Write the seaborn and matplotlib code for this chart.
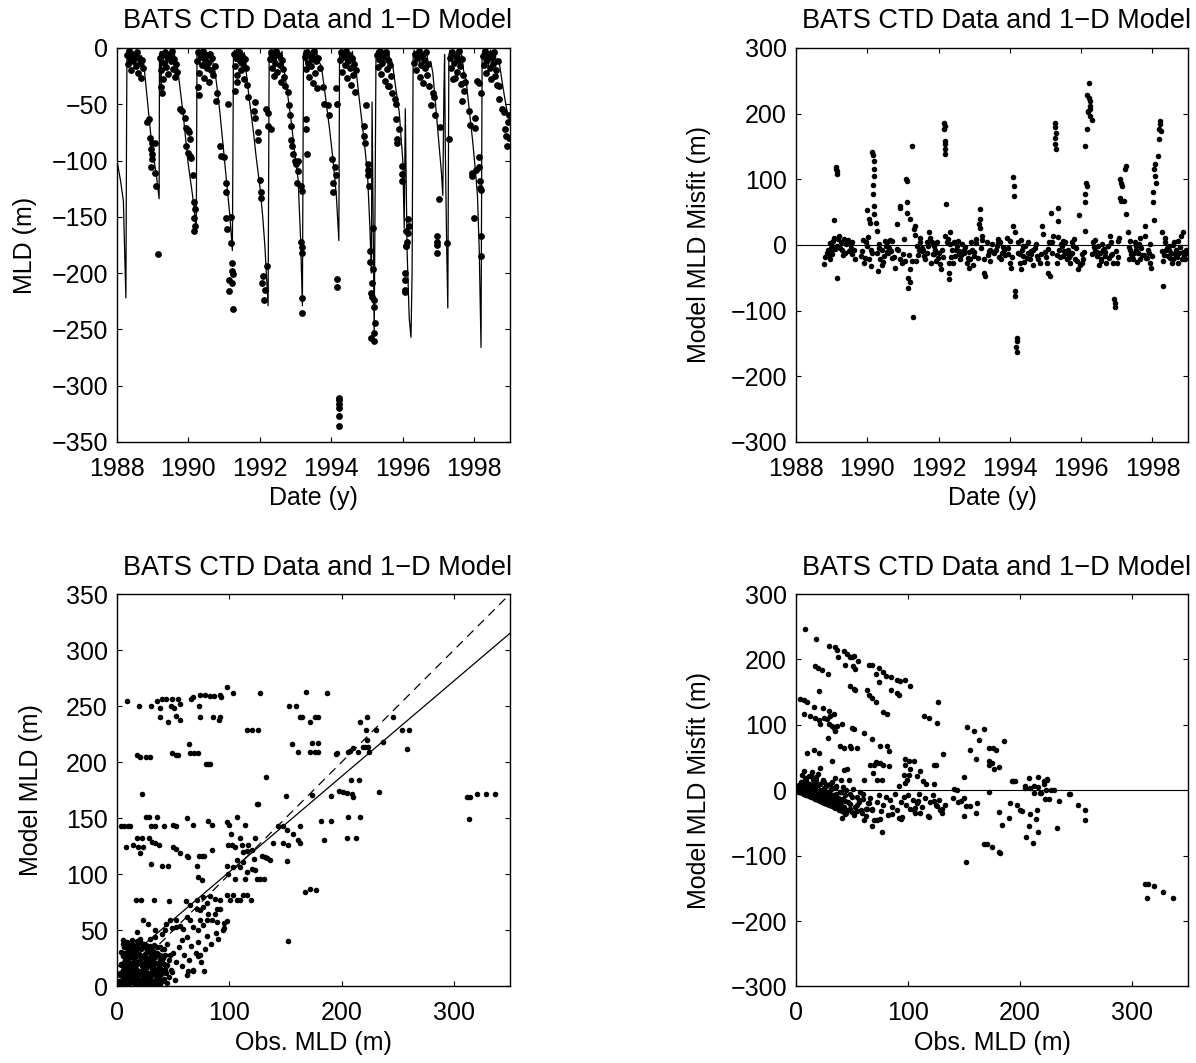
import matplotlib
matplotlib.use('Agg')
import matplotlib.pyplot as plt
import seaborn as sns

# ---------------- panel 1: MLD time series (model line + CTD obs) ----------------
model_year = [
    1988.00, 1988.10, 1988.18, 1988.21, 1988.25, 1988.27, 1988.28, 1988.31, 1988.33, 1988.36,
    1988.39, 1988.42, 1988.45, 1988.48, 1988.51, 1988.54, 1988.57, 1988.60, 1988.63, 1988.66,
    1988.69, 1988.72, 1988.75, 1988.80, 1988.86, 1988.92, 1988.98, 1989.04, 1989.10, 1989.18,
    1989.19, 1989.22, 1989.24, 1989.25, 1989.28, 1989.31, 1989.34, 1989.37, 1989.40, 1989.43,
    1989.46, 1989.49, 1989.52, 1989.55, 1989.58, 1989.61, 1989.64, 1989.68, 1989.72, 1989.78,
    1989.85, 1989.92, 1989.99, 1990.06, 1990.12, 1990.18, 1990.22,
    1990.24, 1990.27, 1990.30, 1990.33, 1990.36, 1990.39, 1990.42, 1990.45, 1990.48, 1990.51,
    1990.54, 1990.57, 1990.60, 1990.63, 1990.66, 1990.70, 1990.74, 1990.80, 1990.88, 1990.95,
    1991.02, 1991.09, 1991.16, 1991.23,
    1991.26, 1991.29, 1991.32, 1991.35, 1991.38, 1991.41, 1991.44, 1991.47, 1991.50, 1991.53,
    1991.56, 1991.59, 1991.62, 1991.70, 1991.81, 1991.90, 1992.00, 1992.08, 1992.14, 1992.23,
    1992.26, 1992.29, 1992.32, 1992.35, 1992.38, 1992.41, 1992.44, 1992.47, 1992.50, 1992.53,
    1992.56, 1992.59, 1992.62, 1992.65, 1992.69, 1992.78, 1992.88, 1992.97, 1993.07, 1993.14,
    1993.19,
    1993.22, 1993.25, 1993.28, 1993.31, 1993.34, 1993.37, 1993.40, 1993.43, 1993.46, 1993.49,
    1993.52, 1993.55, 1993.58, 1993.61, 1993.65, 1993.72, 1993.83, 1993.95, 1994.05, 1994.14,
    1994.21,
    1994.23, 1994.26, 1994.29, 1994.32, 1994.35, 1994.38, 1994.41, 1994.44, 1994.47, 1994.50,
    1994.53, 1994.56, 1994.59, 1994.62, 1994.66, 1994.69, 1994.78, 1994.88, 1994.96, 1995.02,
    1995.08, 1995.12, 1995.14, 1995.17, 1995.20, 1995.25,
    1995.28, 1995.31, 1995.34, 1995.37, 1995.40, 1995.43, 1995.46, 1995.49, 1995.52, 1995.55,
    1995.58, 1995.61, 1995.64, 1995.68, 1995.72, 1995.80, 1995.90, 1996.00, 1996.04, 1996.07,
    1996.12, 1996.18, 1996.23, 1996.26, 1996.29,
    1996.32, 1996.35, 1996.38, 1996.41, 1996.44, 1996.47, 1996.50, 1996.53, 1996.56, 1996.59,
    1996.62, 1996.65, 1996.68, 1996.72, 1996.78, 1996.84, 1996.93, 1997.02, 1997.08, 1997.12,
    1997.15, 1997.17, 1997.19, 1997.23, 1997.26, 1997.29,
    1997.32, 1997.35, 1997.38, 1997.41, 1997.44, 1997.47, 1997.50, 1997.53, 1997.56, 1997.59,
    1997.62, 1997.65, 1997.70, 1997.77, 1997.86, 1997.95, 1998.03, 1998.09, 1998.14, 1998.19,
    1998.22,
    1998.25, 1998.28, 1998.31, 1998.34, 1998.37, 1998.40, 1998.43, 1998.46, 1998.49, 1998.52,
    1998.55, 1998.58, 1998.62, 1998.66, 1998.70, 1998.77, 1998.84, 1998.91, 1998.98,
]
model_mld = [
    -100, -118, -136, -175, -222, -60, -8, -3, -14, -4,
    -9, -2, -12, -5, -18, -6, -3, -10, -4, -15,
    -7, -20, -14, -30, -50, -68, -88, -100, -112, -134,
    -6, -3, -35, -4, -12, -3, -8, -2, -16, -5,
    -10, -3, -7, -2, -12, -5, -20, -14, -24, -40,
    -58, -80, -102, -118, -132, -149, -163,
    -5, -2, -15, -4, -9, -3, -18, -6, -2, -11,
    -4, -7, -3, -14, -6, -17, -20, -35, -57, -80,
    -102, -125, -149, -180,
    -6, -2, -12, -4, -8, -3, -16, -5, -2, -10,
    -4, -14, -22, -45, -72, -98, -123, -150, -176, -229,
    -6, -3, -13, -4, -9, -2, -17, -5, -3, -11,
    -4, -8, -3, -15, -22, -42, -66, -92, -117, -170,
    -229,
    -5, -2, -14, -4, -8, -3, -18, -6, -2, -10,
    -4, -13, -3, -7, -12, -16, -42, -72, -100, -131,
    -171,
    -5, -2, -12, -4, -9, -3, -16, -5, -2, -11,
    -4, -8, -3, -14, -10, -19, -45, -72, -95, -117,
    -160, -200, -48, -150, -255, -6,
    -2, -13, -4, -9, -3, -17, -5, -2, -11, -4,
    -8, -3, -14, -10, -16, -35, -57, -100, -160, -54,
    -180, -240, -257, -200, -6,
    -2, -12, -4, -9, -3, -16, -5, -2, -10, -4,
    -13, -3, -7, -15, -12, -22, -55, -87, -110, -131,
    -40, -6, -90, -180, -231, -6,
    -2, -12, -4, -8, -3, -15, -5, -2, -10, -4,
    -14, -6, -20, -28, -55, -81, -108, -131, -180, -266,
    -6,
    -2, -13, -4, -9, -3, -16, -5, -2, -11, -4,
    -8, -3, -14, -10, -13, -28, -42, -55, -63,
]

obs_year = [
    1988.29, 1988.31, 1988.34, 1988.37, 1988.40, 1988.43, 1988.46, 1988.49, 1988.52, 1988.55, 1988.58, 1988.61, 1988.64, 1988.67, 1988.70, 1988.73,
    1988.83, 1988.89, 1988.92, 1988.97, 1989.06, 1988.94, 1988.99, 1988.97, 1988.95, 1989.06, 1989.08, 1989.14,
    1989.20, 1989.23, 1989.26, 1989.29, 1989.32, 1989.35, 1989.38, 1989.41, 1989.44, 1989.47, 1989.50, 1989.53, 1989.56, 1989.59, 1989.62, 1989.65, 1989.68, 1989.22, 1989.25,
    1989.76, 1989.83, 1989.90, 1989.94, 1989.99, 1990.01, 1990.04, 1989.94, 1989.99, 1990.04, 1990.08, 1990.12, 1990.17, 1990.18, 1990.17, 1990.18, 1990.16,
    1990.25, 1990.28, 1990.31, 1990.34, 1990.37, 1990.40, 1990.43, 1990.46, 1990.49, 1990.52, 1990.55, 1990.58, 1990.61, 1990.64, 1990.67, 1990.70, 1990.73, 1990.78, 1990.27, 1990.30,
    1990.88, 1990.92, 1991.00, 1991.04, 1991.06, 1991.04, 1991.07, 1991.18, 1991.20, 1991.21, 1991.22, 1991.24, 1991.13, 1991.22, 1991.13, 1991.24, 1991.11, 1990.80,
    1991.28, 1991.31, 1991.34, 1991.37, 1991.40, 1991.43, 1991.46, 1991.49, 1991.52, 1991.55, 1991.58, 1991.61, 1991.64, 1991.30, 1991.35,
    1991.67, 1991.85, 1991.84, 1991.85, 1991.95, 1991.95, 1992.01, 1992.04, 1992.03, 1992.09, 1992.07, 1992.14, 1992.12, 1992.20,
    1992.16, 1992.22, 1992.22, 1992.31, 1992.28, 1992.31, 1992.34, 1992.37, 1992.40, 1992.43, 1992.46, 1992.49, 1992.52, 1992.55, 1992.58, 1992.61, 1992.64, 1992.67, 1992.70,
    1992.79, 1992.82, 1992.84, 1992.86, 1992.88, 1992.91, 1992.93, 1992.98, 1993.02, 1993.06, 1993.04, 1993.07, 1993.14, 1993.17, 1993.16, 1993.17, 1993.19, 1993.19, 1993.19,
    1993.25, 1993.28, 1993.31, 1993.34, 1993.37, 1993.40, 1993.43, 1993.46, 1993.49, 1993.52, 1993.55, 1993.58, 1993.61, 1993.64, 1993.67, 1993.30, 1993.30, 1993.32,
    1993.90, 1993.93, 1994.02, 1994.09, 1994.13, 1994.04, 1994.04, 1994.16, 1994.16, 1994.21, 1994.21, 1994.21, 1994.21, 1994.21, 1994.21, 1993.76, 1993.80,
    1994.25, 1994.28, 1994.31, 1994.34, 1994.37, 1994.40, 1994.43, 1994.46, 1994.49, 1994.52, 1994.55, 1994.58, 1994.61, 1994.64, 1994.67, 1994.70, 1994.14, 1994.16,
    1994.97, 1994.92, 1994.92, 1994.94, 1995.02, 1995.03, 1995.04, 1995.05, 1995.16, 1995.09, 1995.09, 1995.16, 1995.14, 1995.12, 1995.14, 1995.20, 1995.20, 1995.23, 1995.20, 1995.12, 1995.20,
    1995.28, 1995.31, 1995.34, 1995.37, 1995.40, 1995.43, 1995.46, 1995.49, 1995.52, 1995.55, 1995.58, 1995.61, 1995.64, 1995.67, 1995.70, 1995.60,
    1995.77, 1995.81, 1995.90, 1995.81, 1995.83, 1995.85, 1995.97, 1995.99, 1995.97, 1996.14, 1996.17, 1996.14, 1996.10, 1996.12, 1996.10, 1996.10, 1996.05, 1996.05, 1996.05, 1996.07,
    1996.32, 1996.35, 1996.38, 1996.41, 1996.44, 1996.47, 1996.50, 1996.53, 1996.56, 1996.59, 1996.62, 1996.65, 1996.68, 1996.71, 1996.74, 1996.78,
    1996.84, 1996.90, 1996.95, 1996.95, 1996.95, 1996.95, 1997.02, 1997.25, 1997.30, 1996.88, 1997.05,
    1997.33, 1997.36, 1997.39, 1997.42, 1997.45, 1997.48, 1997.51, 1997.54, 1997.57, 1997.60, 1997.63, 1997.66, 1997.69, 1997.72, 1997.67, 1997.75, 1997.40,
    1997.86, 1997.87, 1998.01, 1998.03, 1998.09, 1998.13, 1997.95, 1997.93, 1998.04, 1998.13, 1998.16, 1998.16, 1998.19, 1998.14, 1998.00, 1998.19, 1998.19, 1998.18,
    1998.25, 1998.28, 1998.31, 1998.34, 1998.37, 1998.40, 1998.43, 1998.46, 1998.49, 1998.52, 1998.55, 1998.58, 1998.61, 1998.64, 1998.67, 1998.70, 1998.70,
    1998.79, 1998.84, 1998.86, 1998.90, 1998.93, 1998.96, 1998.95, 1998.98,
]
obs_mld = [
    -6, -14, -3, -10, -20, -5, -12, -8, -16, -4, -22, -9, -13, -27, -11, -18,
    -66, -63, -80, -84, -84, -90, -94, -99, -106, -111, -123, -183,
    -9, -20, -5, -28, -13, -4, -17, -8, -23, -6, -12, -3, -19, -10, -26, -14, -21, -35, -40,
    -54, -56, -62, -71, -73, -75, -81, -87, -93, -96, -98, -113, -137, -143, -151, -158, -163,
    -12, -4, -22, -8, -15, -3, -27, -10, -6, -18, -13, -30, -5, -20, -9, -24, -16, -47, -35, -42,
    -87, -96, -97, -120, -128, -151, -161, -150, -173, -191, -198, -201, -206, -209, -216, -232, -50, -40,
    -5, -16, -9, -24, -3, -12, -20, -7, -14, -28, -10, -18, -33, -38, -30,
    -44, -48, -56, -62, -75, -82, -117, -128, -133, -203, -209, -215, -224, -194,
    -54, -58, -69, -72, -10, -4, -18, -8, -25, -13, -3, -21, -6, -15, -30, -11, -19, -26, -34,
    -39, -51, -60, -69, -82, -87, -94, -100, -103, -109, -120, -100, -123, -127, -172, -177, -182, -222, -235,
    -8, -19, -4, -13, -26, -6, -16, -10, -31, -3, -22, -12, -36, -9, -18, -63, -72, -94,
    -51, -60, -99, -106, -113, -120, -128, -205, -212, -311, -313, -316, -320, -327, -336, -35, -50,
    -11, -4, -21, -8, -15, -3, -27, -12, -6, -18, -33, -9, -24, -14, -39, -20, -36, -50,
    -51, -69, -78, -84, -103, -108, -113, -123, -160, -180, -190, -196, -209, -218, -221, -224, -230, -244, -253, -258, -260,
    -6, -17, -10, -3, -23, -13, -8, -29, -4, -19, -11, -34, -15, -25, -40, -34,
    -45, -50, -72, -63, -81, -84, -105, -112, -118, -152, -158, -164, -176, -172, -176, -163, -200, -206, -215, -217,
    -13, -5, -20, -9, -3, -26, -15, -7, -31, -11, -18, -4, -24, -14, -34, -51,
    -40, -60, -167, -172, -175, -182, -134, -173, -81, -44, -70,
    -9, -18, -4, -13, -27, -7, -21, -11, -3, -16, -32, -10, -24, -38, -47, -30, -28,
    -56, -68, -71, -62, -29, -31, -111, -114, -108, -106, -118, -124, -126, -97, -151, -167, -185, -40,
    -7, -15, -3, -22, -11, -5, -18, -28, -9, -14, -4, -25, -20, -33, -12, -34, -45,
    -54, -57, -72, -78, -87, -60, -66, -80,
]

# ---------------- panel 2: model misfit vs date ----------------
misfit_year = [
    1988.79, 1988.91, 1988.93, 1988.95, 1989.07, 1989.12, 1989.12, 1989.14, 1989.14, 1989.14,
    1989.07, 1989.21, 1989.26, 1989.35, 1989.44, 1989.54, 1989.49, 1989.30, 1989.16, 1988.98,
    1989.02, 1989.00, 1989.40, 1989.58, 1989.63, 1989.82, 1989.91, 1989.96, 1990.00, 1990.05,
    1990.08, 1990.09, 1990.12, 1990.17, 1990.19, 1990.19, 1990.19, 1990.17, 1990.17, 1990.19,
    1990.19, 1990.23, 1990.28, 1990.30, 1990.36, 1990.42, 1990.47, 1990.51, 1990.56, 1990.61,
    1990.70, 1990.65, 1990.05, 1990.11, 1990.00, 1990.79, 1990.84, 1990.91, 1990.93, 1990.93,
    1990.98, 1991.03, 1991.07, 1991.09, 1991.12, 1991.10, 1991.12, 1991.14, 1991.14, 1991.19,
    1991.21, 1991.21, 1991.24, 1991.26, 1991.28, 1991.31, 1991.35, 1991.40, 1991.45, 1991.49,
    1991.54, 1991.58, 1991.63, 1991.68, 1991.72, 1991.77, 1991.82, 1991.86, 1991.91, 1991.96,
    1992.00, 1992.05, 1992.07, 1992.14, 1992.17, 1992.14, 1992.19, 1992.17, 1992.19, 1992.19,
    1992.21, 1992.19, 1992.24, 1992.28, 1992.28, 1992.30, 1992.33, 1992.38, 1992.42, 1992.47,
    1992.52, 1992.56, 1992.61, 1992.66, 1992.70, 1992.80, 1992.84, 1992.89, 1992.93, 1992.98,
    1993.06, 1993.12, 1993.15, 1993.15, 1993.17, 1993.21, 1993.26, 1993.28, 1993.31, 1993.35,
    1993.40, 1993.45, 1993.54, 1993.63, 1993.68, 1993.73, 1993.77, 1993.84, 1993.91, 1993.96,
    1994.01, 1994.02, 1994.10, 1994.12, 1994.12, 1994.10, 1994.13, 1994.15, 1994.15, 1994.19,
    1994.19, 1994.17, 1994.19, 1994.24, 1994.28, 1994.30, 1994.33, 1994.38, 1994.42, 1994.52,
    1994.56, 1994.66, 1994.75, 1994.84, 1994.89, 1994.94, 1995.03, 1995.08, 1995.12, 1995.14,
    1995.17, 1995.22, 1995.26, 1995.26, 1995.28, 1995.26, 1995.26, 1995.29, 1995.31, 1995.36,
    1995.36, 1995.38, 1995.45, 1995.50, 1995.54, 1995.59, 1995.63, 1995.68, 1995.73, 1995.77,
    1995.82, 1995.91, 1995.94, 1996.01, 1996.05, 1996.10, 1996.10, 1996.12, 1996.13, 1996.15,
    1996.12, 1996.15, 1996.17, 1996.18, 1996.19, 1996.22, 1996.24, 1996.24, 1996.26, 1996.26,
    1996.29, 1996.22, 1996.33, 1996.38, 1996.43, 1996.47, 1996.52, 1996.57, 1996.61, 1996.66,
    1996.71, 1996.80, 1996.85, 1996.89, 1996.92, 1996.94, 1996.94, 1997.01, 1997.06, 1997.08,
    1997.12, 1997.15, 1997.10, 1997.12, 1997.20, 1997.22, 1997.25, 1997.25, 1997.31, 1997.36,
    1997.40, 1997.45, 1997.50, 1997.54, 1997.59, 1997.64, 1997.68, 1997.78, 1997.80, 1997.87,
    1997.92, 1997.96, 1997.99, 1998.01, 1998.01, 1998.03, 1998.04, 1998.06, 1998.08, 1998.10,
    1998.15, 1998.18, 1998.18, 1998.20, 1998.21, 1998.24, 1998.26, 1998.29, 1998.34, 1998.38,
    1998.43, 1998.47, 1998.52, 1998.57, 1998.61, 1998.66, 1998.71, 1998.75, 1998.80, 1998.85,
    1998.89, 1998.94,
]
misfit_m = [
    -29, -7, -17, -22, 38, 118, 115, 113, 108, -51,
    11, 14, 4, 9, 4, -4, -9, -7, -2, -9,
    -2, -14, 1, 4, -7, -17, -27, 4, 54, 39,
    34, -32, 141, 137, 128, 115, 105, 92, 77, 60,
    47, 34, 21, -40, -22, -7, -17, -2, 4, -4,
    6, -9, -22, -7, -2, -35, 32, 59, 57, -22,
    -27, 9, -24, 100, 98, 66, 49, -50, -65, 39,
    -37, -57, -24, 151, -110, 25, 29, -2, -7, 4,
    -9, -17, -22, -12, 19, 11, 4, -2, -7, 4,
    -12, -29, -37, 186, 181, 176, 158, 153, 146, 138,
    62, 14, 4, -27, -42, -52, 19, -7, 4, -17,
    -2, -9, -22, 1, -12, -27, -35, -22, -7, -17,
    9, 32, 39, 55, 26, 14, -22, -42, -47, 4,
    -9, -7, -12, -2, 9, 4, -12, -7, 11, -4,
    -27, -35, 103, 90, 75, 29, 19, -70, -78, -141,
    -146, -156, -163, 4, -27, -37, -7, -17, -2, -12,
    -22, -7, -17, -27, 29, 16, -27, -42, -47, 49,
    4, 14, 186, 179, 171, 163, 153, 146, -27, 57,
    37, -7, -2, -17, 4, -22, -7, -27, 4, -2,
    -22, -37, 45, -27, -22, 21, 65, 77, 95, 90,
    150, 176, 229, 202, 204, 246, 219, 212, 207, 196,
    191, 224, 4, -9, -17, -2, -12, -22, -7, -17,
    -27, 14, 4, -27, -82, -89, -95, -27, 10, 100,
    95, 90, 72, 67, 67, 115, 120, 47, 19, -7,
    -14, -22, 4, -2, -12, -22, -4, 14, 29, -7,
    -27, -35, -17, 80, 65, 115, 38, 123, 105, 95,
    136, 161, 176, 189, 184, 174, 20, -62, 4, -7,
    -17, -2, -12, -22, 4, -7, -27, -12, 14, 19,
    -17, -7,
]
# extra points in the dense band around zero misfit
band_year = [
    1988.86, 1988.97, 1989.04, 1989.18, 1989.24, 1989.38, 1989.46, 1989.56,
    1989.86, 1989.94, 1990.03, 1990.26, 1990.34, 1990.45, 1990.54, 1990.63,
    1990.76, 1990.87, 1991.01, 1991.33, 1991.42, 1991.52, 1991.66, 1991.80,
    1991.88, 1991.98, 1992.10, 1992.26, 1992.36, 1992.49, 1992.58, 1992.75,
    1992.86, 1992.96, 1993.04, 1993.19, 1993.38, 1993.49, 1993.60, 1993.70,
    1993.80, 1993.94, 1994.07, 1994.27, 1994.36, 1994.47, 1994.60, 1994.70,
    1994.80, 1994.98, 1995.10, 1995.19, 1995.33, 1995.42, 1995.52, 1995.66,
    1995.75, 1995.86, 1995.98, 1996.03, 1996.36, 1996.45, 1996.55, 1996.64,
    1996.75, 1996.83, 1996.98, 1997.04, 1997.34, 1997.43, 1997.53, 1997.62,
    1997.72, 1997.84, 1997.90, 1998.27, 1998.32, 1998.41, 1998.50, 1998.59,
    1998.68, 1998.78, 1998.87, 1998.92,
]
band_m = [
    -12, -4, 6, 9, -5, -12, 7, -14,
    -9, -20, 12, -12, 2, -26, -10, 8,
    -18, -8, -14, 15, -15, -4, 5, -28,
    -14, -20, -8, 9, -19, -7, -14, -3,
    -10, -30, 3, -5, -16, 2, -8, -18,
    -3, -13, -19, -14, -2, -20, -9, -4,
    -22, -10, 5, -12, -15, 1, -9, -19,
    -12, -4, -30, -14, -3, -11, -25, -6,
    -2, -15, -9, -19, -3, -18, -8, 2,
    -16, -20, -12, -9, -15, -4, -20, 0,
    -18, -3, -11, -22,
]
band2_year = [
    1988.82, 1988.94, 1989.09, 1989.32, 1989.51, 1989.66, 1989.88, 1990.14,
    1990.32, 1990.40, 1990.50, 1990.58, 1990.68, 1990.82, 1991.16, 1991.36,
    1991.47, 1991.56, 1991.70, 1991.84, 1991.93, 1992.12, 1992.31, 1992.40,
    1992.54, 1992.63, 1992.72, 1992.82, 1992.91, 1993.00, 1993.10, 1993.23,
    1993.43, 1993.52, 1993.66, 1993.74, 1993.86, 1993.99, 1994.22, 1994.31,
    1994.40, 1994.50, 1994.58, 1994.64, 1994.73, 1994.86, 1995.00, 1995.06,
    1995.34, 1995.40, 1995.48, 1995.57, 1995.70, 1995.80, 1995.88, 1996.07,
    1996.31, 1996.40, 1996.50, 1996.59, 1996.68, 1996.78, 1996.87, 1997.03,
    1997.33, 1997.38, 1997.48, 1997.57, 1997.66, 1997.75, 1997.82, 1997.94,
    1998.30, 1998.36, 1998.45, 1998.54, 1998.63, 1998.73, 1998.82, 1998.96,
]
band2_m = [
    -18, 3, -6, -15, 2, -22, 8, -12,
    -4, -30, 6, -12, -20, -6, -15, -24,
    10, -8, -2, -14, -24, -18, 2, -28,
    6, -16, -8, -20, 4, -10, -20, 8,
    -24, -10, 4, -22, -16, 6, -12, 8,
    -26, 4, -14, -30, 2, -14, -18, -6,
    12, -18, 6, -12, -16, 9, -24, -10,
    -14, 8, -30, 2, -10, -20, -14, 6,
    -22, 6, -12, -26, 10, -16, -20, 2,
    -24, 10, -8, -28, -14, 6, -22, -12,
]

# ---------------- panel 3: observed vs model MLD ----------------
top_obs = [9.2, 19.6, 30, 35.9, 39.9, 44, 48.7, 54, 56, 38,
           48, 51, 38, 45.8, 52.5, 56, 65.6, 68, 74, 78,
           82.8, 86, 91.7, 93, 97.6, 103.6, 73, 73.9, 85.8, 91,
           92, 115.5, 120, 126, 127, 153.5, 159.4, 162.9, 164.5, 168.3,
           171.9, 176, 179, 186.7, 155.5, 161.5, 171.9, 176, 179, 173.3,
           179, 196, 195.5, 206, 207.5, 210.5, 214.9, 216.4, 222.3, 221.8,
           224.7, 222.3, 219, 220.5, 223.5, 230.6, 236.6, 245.5, 253.5, 260,
           258.5]
top_model = [255, 250, 250, 255, 256, 256.5, 256, 256, 252, 248,
             250, 248, 240, 236, 241, 238, 256, 258.5, 260, 260,
             259, 259, 260, 258, 267, 262, 250, 240, 240, 238,
             240, 229, 229, 229, 262, 250, 250, 240, 240, 263,
             236, 240, 240, 261.5, 216, 209, 209, 209, 209, 217,
             217, 208.5, 207, 209, 210, 213, 209, 236, 240, 229,
             209, 220, 214, 214, 214, 229, 218, 240, 229, 229,
             212]
mid_obs = [17.5, 20.8, 25.8, 29.4, 48.7, 52.5, 54.5, 64.4, 65, 68.6,
           72.4, 79.3, 81.3, 82.8, 132.4, 22, 124.4, 125.8, 150.5, 173.3,
           191, 198, 201.5, 204.5, 209, 210.5, 208, 215.8, 233.6, 311.4,
           314.3, 320.3, 328.6, 336.6, 313.4]
mid_model = [206, 205, 205, 205, 208, 206, 206, 216, 208, 208,
             208, 198, 198, 198, 186.5, 172, 162.6, 163, 169.8, 170.7,
             169.8, 174, 173.7, 172.8, 172, 169, 184, 184, 173.7, 168.6,
             168.6, 172, 172, 172, 149]
b140_obs = [4, 6.5, 10, 11.5, 8, 14, 17.5, 21.9, 18.4, 23.4,
            20.5, 25.8, 28.8, 35.3, 30, 33.9, 42, 50, 52.5, 28.8,
            31, 33.9, 37.7, 30.3, 39.8, 45.7, 50, 52.5, 56, 62.6,
            62.6, 63.5, 68, 73.3, 75.4, 77.5, 81.3, 84.3, 84.3, 71,
            72.4, 75.4, 97.6, 100, 106.6, 114, 99.1, 102, 101.2, 109.5,
            111, 105, 117, 112.5, 115.5, 119.9, 122.9, 128.8, 131.8, 136,
            139.2, 147.5, 152.6, 157, 161.5, 163, 151, 143.7, 147.5, 151,
            163, 181.4, 190.3, 184.3, 206, 216.4, 205, 212.5]
b140_model = [143, 143, 143, 143, 124.5, 126.6, 132, 132, 124.5, 124.5,
              119, 150.7, 150.7, 150.7, 143, 143, 143, 144, 143, 132,
              129, 128, 126.6, 109.6, 107.5, 107.5, 124.5, 123, 119, 150.4,
              116, 115.5, 144, 116, 116, 116, 148, 144, 122, 107,
              97.7, 95, 147, 144, 150.7, 144, 126, 126, 136, 132,
              126, 124.5, 126, 120, 121, 122, 132, 116, 115.6, 113,
              127.5, 127.5, 126, 136, 130.5, 127.5, 111.7, 143, 143, 139.4,
              143, 147.7, 147.7, 131, 150.7, 150.7, 132, 132]
b100_obs = [97.6, 99.1, 103.6, 105, 109.5, 114, 115.5, 119.9, 122.9, 124.4,
            127.3, 130.9, 133.9, 122, 106.6, 112.5, 167.4, 172, 177.2]
b100_model = [107, 100.7, 106.6, 96, 106.6, 96, 102, 105, 103.6, 96,
              96, 96, 115, 114, 112.6, 111, 84, 87, 85.8]
b60_obs = [16.9, 21.4, 32.9, 46.3, 61.4, 71, 77, 82.8, 87.3, 91.7,
           97.6, 100.6, 103.6, 106.6, 109.5, 112.5, 115.5, 119, 65, 71,
           74, 77, 80, 88.7, 91.7, 87.3, 95, 94.7, 85, 88.7,
           74, 80, 81.3, 77, 65, 62, 68, 72.4, 59, 56,
           53, 48.7, 53, 47.2, 44, 42.7, 23.4, 27.9, 33.8, 39.8,
           152.6, 74, 72.5, 62, 57.6, 63.5, 68, 77.5, 46.6, 44.2,
           48.7, 5.6, 8.6, 13, 17.5, 20.5, 23.4, 29.4, 33.8, 17.5]
b60_model = [77.5, 77.5, 77.5, 76, 76, 76.9, 80, 81, 78, 77.5,
             82, 77.5, 82, 77.5, 77.5, 82, 82, 77, 73, 69,
             68.5, 71, 74, 69, 69, 65, 56.6, 50.6, 59.6, 57.5,
             59, 59, 65, 55, 59, 62, 53, 50, 51.5, 53.6,
             53, 52.4, 59, 59, 56, 50, 59, 56, 50, 47,
             40.5, 27.7, 27, 44, 41, 13.7, 13.7, 13.7, 8.3, 3,
             12.8, 41, 39.6, 41, 40.5, 42.6, 38, 42.6, 44, 48.6]
clus_obs = [4, 5, 5, 6, 6, 7, 7, 8, 8, 9,
            9, 10, 10, 11, 11, 12, 12, 13, 13, 14,
            14, 15, 15, 16, 16, 17, 17, 18, 18, 19,
            19, 20, 20, 21, 21, 22, 22, 23, 23, 24,
            24, 25, 25, 26, 26, 27, 28, 28, 29, 30,
            30, 31, 32, 33, 33, 34, 35, 36, 37, 38,
            39, 40, 41, 42, 43, 44, 45, 46, 48, 50,
            52, 53, 55, 58, 60, 62, 64, 66, 68, 70,
            72, 75, 78, 80, 84, 88, 90, 95, 98]
clus_model = [2, 8, 15, 4, 22, 11, 30, 6, 18, 1,
              25, 13, 35, 8, 20, 3, 28, 15, 38, 9,
              22, 4, 32, 17, 26, 11, 2, 20, 36, 7,
              29, 14, 23, 4, 33, 18, 10, 27, 1, 15,
              38, 8, 22, 30, 3, 17, 12, 34, 25, 6,
              19, 28, 11, 37, 2, 21, 14, 30, 8, 24,
              16, 33, 5, 20, 28, 12, 38, 24, 15, 30,
              6, 22, 35, 18, 28, 10, 24, 36, 15, 30,
              40, 22, 33, 45, 38, 48, 42, 52, 58]
clus2_obs = [3, 4, 5, 6, 7, 8, 9, 10, 11, 12,
             13, 14, 15, 16, 17, 18, 19, 20, 21, 22,
             23, 24, 25, 26, 27, 28, 29, 30, 31, 32,
             33, 34, 35, 36, 37, 38, 39, 40, 42, 44,
             3, 5, 7, 9, 11, 13, 15, 17, 19, 21,
             23, 25, 27, 29, 31, 33, 35, 37, 39, 41]
clus2_model = [10, 19, 27, 0, 13, 24, 5, 31, 16, 26,
               6, 30, 12, 2, 21, 33, 11, 1, 26, 7,
               20, 4, 29, 13, 25, 7, 18, 31, 14, 24,
               5, 16, 27, 9, 20, 2, 13, 26, 7, 18,
               5, 1, 16, 12, 6, 21, 10, 27, 3, 12,
               9, 16, 5, 2, 22, 13, 7, 19, 11, 25]
clus3_obs = [2, 3, 4, 5, 6, 7, 8, 9, 10, 11,
             12, 13, 14, 15, 16, 17, 18, 19, 20, 21,
             22, 23, 24, 25, 26, 27, 28, 29, 30, 31,
             32, 33, 34, 35, 36, 37, 38, 39, 40, 43,
             4, 6, 8, 10, 12, 14, 16, 18, 20, 22,
             24, 26, 28, 30, 32, 34, 36, 38, 41, 45,
             5, 9, 13, 17, 21, 25, 29, 33, 37, 42,
             7, 11, 15, 19, 23, 27, 31, 35, 40, 47]
clus3_model = [5, 12, 20, 28, 35, 17, 24, 31, 3, 36,
               19, 5, 26, 10, 32, 16, 6, 22, 29, 12,
               34, 15, 6, 26, 12, 33, 21, 9, 27, 16,
               3, 31, 11, 21, 35, 14, 28, 6, 22, 15,
               31, 9, 35, 23, 11, 18, 36, 12, 5, 27,
               20, 37, 8, 33, 17, 26, 3, 35, 27, 19,
               38, 38, 33, 6, 39, 17, 36, 29, 18, 33,
               25, 29, 23, 39, 11, 3, 10, 4, 12, 28]
fit_obs = [0, 350]
fit_model = [17, 315]
one_obs = [0, 350]
one_model = [0, 350]

# ---------------- panel 4: misfit vs observed MLD ----------------
r_hi_obs = [8.3, 18, 29, 35, 36.6, 37, 42.5, 45.5, 48, 50,
            52, 55, 44, 51, 53, 64.8, 67.5, 71.7, 74, 77.6,
            80.6, 84.7, 90, 92.5, 97.5, 102, 17.2, 19.4, 23, 28.2,
            48.5, 51.4, 53, 63.3, 65, 67.8, 71.7, 74, 85, 90,
            91.5, 78, 81, 114.5, 118.3, 125.8, 126.3, 20.2, 3.9, 6.8,
            9.8, 15.8, 24, 29, 30, 34, 29, 32, 36.6, 12.8,
            17, 20.2, 21, 6.8, 25, 27.7, 34, 35, 41, 50,
            51.4, 61, 67.8, 28.8, 39.5, 43, 48, 49, 54, 74.6,
            81, 82.7, 9.8, 15.8, 20.2, 32, 45.5, 60.4, 97.5, 100.5,
            105, 97.5, 102, 100.5, 108, 111, 113.6, 116, 123, 123,
            125, 131, 66.3, 72, 69, 77.6, 82.7, 72, 76.7, 91.6,
            97, 99, 96]
r_hi_m = [247, 231, 221, 219, 215, 203, 213, 208, 204, 203,
          205, 197, 192, 190, 185, 191, 191, 177, 187, 180,
          175, 173, 168, 167, 169, 159, 190, 187, 184, 177,
          159, 155, 153, 153, 145, 141, 135, 165, 154, 148,
          146, 119, 117, 113, 111, 103, 135, 151.5, 140, 138,
          135, 127.6, 126, 121, 113, 116, 100.5, 98, 98, 113,
          110, 107, 101, 117, 110.7, 109, 95.4, 90, 102, 95.4,
          93, 88, 77.6, 80, 68, 65, 67, 65, 65, 67,
          68, 60, 57, 61, 57, 44, 32, 16, 48, 44,
          44, 39, 32, 24, 21, 29, 14, 10, 10, 39,
          38, 56, 39, 41, 26.5, 39, 37, 16, 16, 6,
          11, 16, 24]
r_right_obs = [149.6, 152.5, 158.5, 163, 161, 155, 168, 171.9, 175.7, 178.7,
               172.5, 174.6, 172.5, 177, 181, 185.3, 194, 195.6, 207.6, 204.6,
               209, 215.6, 224, 221, 230, 244.7, 212, 218]
r_right_m = [20, 97, 91, 76.5, 48.5, 61, 94, 65, 64, 61,
             45, 41, 38, 33, 36, 76, 14, 14, 19, 3.6,
             4, 20, 16, 10, 0, -5, -4, -4]
r_lo_obs = [43.4, 41, 60.4, 67.8, 76.7, 72, 75, 67.8, 63.3, 54.4,
            85.6, 94.6, 93.7, 111, 118.3, 105, 106, 109, 123, 125.8,
            128.8, 130, 133, 140, 145, 147, 149.6, 152, 155, 161.5,
            160.8, 150, 151.6, 167.4, 170.4, 175, 181, 181.8, 181, 183.8,
            189.7, 190.6, 197, 200, 201.5, 205, 211.4, 207.6, 209, 215,
            215.6, 214, 222, 219, 226, 233, 235, 244, 252, 258,
            258, 212, 204.6, 215.6, 223, 228, 221, 224, 192.6, 171.9,
            143.6, 140.6]
r_lo_m = [-37, -42, -46, -55, -64, -46, -44, -30, -28.6, -32,
          -37, -41, -44, -35, -41, -29.6, -27, -17, -17, -24.5,
          -29.6, -35, -23, -12, -18, -16, -12, -24.5, -24.5, -19,
          -35, -39, -110, -82, -82, -87, -94, -96, -33, -52.5,
          -42, -20, -23, -29.6, -32, -71, -80, -55, -37, -29.6,
          -64, -44, -13, -4, -14, -58, -17, -5, -23, -29.6,
          -45, 6, 6, 5, 1, 1, 14, 17, 14, -2.6,
          1, 2]
r_far_obs = [311.6, 314.6, 319.7, 328, 336.3, 313]
r_far_m = [-143, -144, -147, -156, -164, -165]
r_pos_obs = [7.4, 21.7, 5, 9, 13, 18, 25, 14, 43, 35, 47, 70, 71, 75]
r_pos_m = [29, 34, 24, 19, 22, 15, 12, 28, 30.6, 19, 16, 38, 43, 41]
res_clus_obs = [2, 3, 4, 5, 6, 7, 8, 9, 10, 11,
                12, 13, 14, 15, 16, 17, 18, 19, 20, 21,
                22, 23, 24, 25, 26, 27, 28, 29, 30, 31,
                32, 33, 34, 35, 36, 37, 38, 39, 40, 41,
                42, 43, 44, 45, 46, 48, 50, 52, 54, 56,
                58, 60, 62, 64, 66, 68, 70, 72, 74, 76,
                78, 80, 82, 84, 86, 88, 90, 92, 94, 96,
                98, 100, 102, 104, 106, 108, 110, 112, 115, 118,
                120, 122, 125, 128, 130]
res_clus_m = [0, -2, 5, -3, 2, -5, 10, -6, -1, -8,
              3, -10, -4, 15, -12, 0, -14, -6, 8, -16,
              -2, -18, -9, 4, -20, -12, -3, -22, -15, 2,
              -24, -8, -18, -27, -5, -12, -30, -20, -2, -32,
              -14, -25, -8, -35, -18, -28, -10, -38, -22, -15,
              -30, -5, -40, -20, -12, -28, -45, -18, -8, -32,
              -22, -10, -38, -15, -25, -5, -30, -42, -18, -10,
              -22, -8, -28, -15, -35, -20, -5, -25, -12, -40,
              -18, -8, -22, -15, -28]
res2_obs = [1, 2, 3, 4, 5, 6, 7, 8, 9, 10,
            11, 12, 13, 14, 15, 16, 17, 18, 19, 20,
            21, 22, 23, 24, 25, 26, 27, 28, 29, 30,
            2, 4, 6, 8, 10, 12, 14, 16, 18, 20,
            22, 24, 26, 28, 30, 32, 34, 36, 38, 40]
res2_m = [1, -1, -2, 1, -4, 3, -5, -2, -7, 4,
          -3, -9, -1, -11, 6, -6, -13, -2, -9, -15,
          0, -12, -17, -5, -19, -8, -14, -21, -3, -11,
          6, 12, -3, 18, -6, 22, -9, 10, -12, 25,
          -16, 14, -19, 8, -23, 12, -25, 5, -28, 16]
res3_obs = [1, 2, 3, 4, 5, 6, 7, 8, 9, 10,
            11, 12, 13, 14, 15, 16, 17, 18, 19, 20,
            21, 22, 23, 24, 25, 26, 27, 28, 29, 30,
            31, 32, 33, 34, 35, 36, 37, 38, 39, 40,
            42, 44, 46, 48, 50, 53, 56, 59, 62, 65,
            3, 6, 9, 12, 15, 18, 21, 24, 27, 30,
            33, 36, 39, 42, 45, 48, 51, 54, 57, 60]
res3_m = [-1, 2, 0, -3, 3, -2, 1, -6, 5, -4,
          -7, 1, -6, -9, -3, -11, 4, -8, -13, -5,
          -10, -15, -7, -12, -16, -4, -18, -10, -20, -6,
          -14, -21, -11, -17, -24, -9, -19, -26, -13, -22,
          -28, -16, -30, -21, -33, -25, -18, -35, -28, -20,
          8, 12, 14, 10, 18, 20, 9, 16, 6, 10,
          3, 7, -2, 5, 0, -6, 2, -10, -3, -14]

TITLE = 'BATS CTD Data and 1\u2212D Model'

sns.set_theme(style='white')
plt.rcParams['font.family'] = ['Liberation Sans', 'DejaVu Sans']
plt.rcParams.update({
    'font.size': 18, 'axes.titlesize': 19.5, 'axes.labelsize': 18,
    'xtick.labelsize': 18, 'ytick.labelsize': 18,
    'text.color': 'black', 'axes.labelcolor': 'black',
    'xtick.color': 'black', 'ytick.color': 'black',
    'axes.edgecolor': 'black', 'axes.linewidth': 1.0,
    'xtick.direction': 'in', 'ytick.direction': 'in',
    'xtick.top': True, 'ytick.right': True,
    'xtick.bottom': True, 'ytick.left': True,
    'xtick.major.size': 3.5, 'ytick.major.size': 3.5,
    'xtick.major.width': 0.8, 'ytick.major.width': 0.8,
    'xtick.major.pad': 10.5, 'ytick.major.pad': 6.5,
})

fig = plt.figure(figsize=(11.96, 10.63), dpi=100)
ax1 = fig.add_axes([0.0978, 0.5842, 0.3286, 0.3707])
ax2 = fig.add_axes([0.6656, 0.5842, 0.3278, 0.3707])
ax3 = fig.add_axes([0.0978, 0.0720, 0.3286, 0.3692])
ax4 = fig.add_axes([0.6656, 0.0720, 0.3278, 0.3692])


def dots(ax, x, y, s=16):
    sns.scatterplot(x=x, y=y, ax=ax, s=s, color='black', linewidth=0, zorder=3)


def finish(ax, xlabel, ylabel, ylab_x):
    ax.set_title(TITLE, pad=14, x=0.511)
    ax.set_xlabel(xlabel, labelpad=4)
    ax.set_ylabel(ylabel)
    ax.yaxis.set_label_coords(ylab_x, 0.5)
    for sp in ax.spines.values():
        sp.set_visible(True)
        sp.set_color('black')


# 1. MLD time series
sns.lineplot(x=model_year, y=model_mld, ax=ax1, sort=False, estimator=None,
             color='black', linewidth=0.9)
dots(ax1, obs_year, obs_mld, s=24)
ax1.set_xlim(1988, 1999)
ax1.set_ylim(-350, 0)
ax1.set_xticks(range(1988, 1999, 2))
ax1.set_yticks(range(-350, 1, 50))
finish(ax1, 'Date (y)', 'MLD (m)', -0.204)

# 2. misfit vs date
ax2.axhline(0, color='black', linewidth=0.8, zorder=1)
dots(ax2, misfit_year, misfit_m)
dots(ax2, band_year, band_m)
dots(ax2, band2_year, band2_m)
ax2.set_xlim(1988, 1999)
ax2.set_ylim(-300, 300)
ax2.set_xticks(range(1988, 1999, 2))
ax2.set_yticks(range(-300, 301, 100))
finish(ax2, 'Date (y)', 'Model MLD Misfit (m)', -0.216)

# 3. obs vs model
for xs, ys in [(top_obs, top_model), (mid_obs, mid_model), (b140_obs, b140_model),
               (b100_obs, b100_model), (b60_obs, b60_model), (clus_obs, clus_model),
               (clus2_obs, clus2_model), (clus3_obs, clus3_model)]:
    dots(ax3, xs, ys)
sns.lineplot(x=fit_obs, y=fit_model, ax=ax3, color='black', linewidth=0.9)
sns.lineplot(x=one_obs, y=one_model, ax=ax3, color='black', linewidth=0.9,
             linestyle=(0, (7, 5)))
ax3.set_xlim(0, 350)
ax3.set_ylim(0, 350)
ax3.set_xticks([0, 100, 200, 300])
ax3.set_yticks(range(0, 351, 50))
finish(ax3, 'Obs. MLD (m)', 'Model MLD (m)', -0.188)

# 4. misfit vs obs
ax4.axhline(0, color='black', linewidth=0.8, zorder=1)
for xs, ys in [(r_hi_obs, r_hi_m), (r_right_obs, r_right_m), (r_lo_obs, r_lo_m),
               (r_far_obs, r_far_m), (r_pos_obs, r_pos_m), (res_clus_obs, res_clus_m),
               (res2_obs, res2_m), (res3_obs, res3_m)]:
    dots(ax4, xs, ys)
ax4.set_xlim(0, 350)
ax4.set_ylim(-300, 300)
ax4.set_xticks([0, 100, 200, 300])
ax4.set_yticks(range(-300, 301, 100))
finish(ax4, 'Obs. MLD (m)', 'Model MLD Misfit (m)', -0.216)

fig.savefig('out.png', dpi=100)
